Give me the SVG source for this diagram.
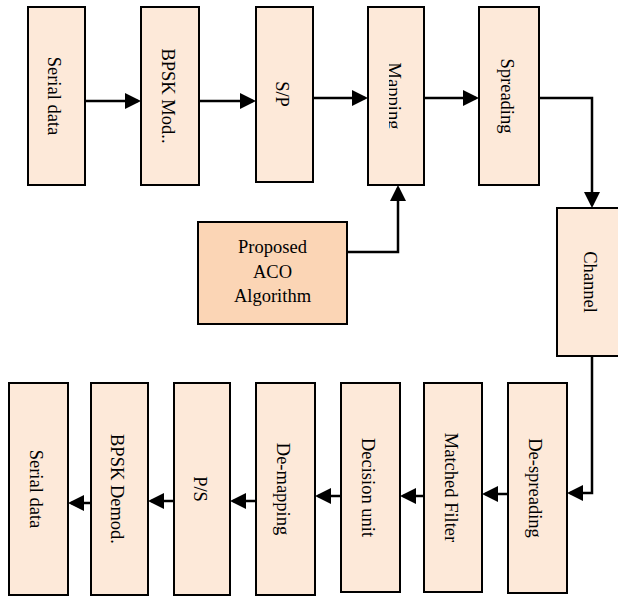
<svg xmlns="http://www.w3.org/2000/svg" width="618" height="597" viewBox="0 0 618 597">
<style>
.box{fill:#FDE9D9;stroke:#000;stroke-width:2}
.aco{fill:#FBD5B5;stroke:#000;stroke-width:2}
.lbl{font-family:"Liberation Serif","Times New Roman",serif;font-size:18.5px;fill:#000;text-anchor:middle}
.conn{fill:none;stroke:#000;stroke-width:2.5}
</style>
<defs>
<marker id="ah" markerUnits="userSpaceOnUse" markerWidth="16" markerHeight="16" refX="13" refY="8" orient="auto">
<path d="M0,0 L16,8 L0,16 z" fill="#000"/>
</marker>
<clipPath id="mapclip"><rect x="389" y="0" width="40" height="200"/></clipPath>
</defs>
<rect width="618" height="597" fill="#fff"/>

<g id="connectors">
<path class="conn" d="M85,101 H138" marker-end="url(#ah)"/>
<path class="conn" d="M199,101 H253" marker-end="url(#ah)"/>
<path class="conn" d="M313,98 H365" marker-end="url(#ah)"/>
<path class="conn" d="M424,98 H476" marker-end="url(#ah)"/>
<path class="conn" d="M539,98 H592 V205" marker-end="url(#ah)"/>
<path class="conn" d="M347,252 H398 V188" marker-end="url(#ah)"/>
<path class="conn" d="M592,356 V493 H570" marker-end="url(#ah)"/>
<path class="conn" d="M508,494 H485" marker-end="url(#ah)"/>
<path class="conn" d="M424,496 H403" marker-end="url(#ah)"/>
<path class="conn" d="M341,496 H318" marker-end="url(#ah)"/>
<path class="conn" d="M256,501 H233" marker-end="url(#ah)"/>
<path class="conn" d="M174,501 H151" marker-end="url(#ah)"/>
<path class="conn" d="M91,503 H71" marker-end="url(#ah)"/>
</g>

<g id="serial-data-tx">
<rect class="box" x="28" y="7" width="57" height="178"/>
<text class="lbl" transform="translate(56.5,96) rotate(90)" y="8.5">Serial data</text>
</g>
<g id="bpsk-mod">
<rect class="box" x="141" y="7" width="58" height="178"/>
<text class="lbl" transform="translate(170,96) rotate(90)" y="8.5">BPSK Mod..</text>
</g>
<g id="sp">
<rect class="box" x="256" y="7" width="57" height="175"/>
<text class="lbl" transform="translate(284.5,94) rotate(90)" y="8.5">S/P</text>
</g>
<g id="mapping">
<rect class="box" x="368" y="7" width="56" height="178"/>
<g clip-path="url(#mapclip)">
<text class="lbl" transform="translate(396,96) rotate(90)" y="8.5">Mapping</text>
</g>
</g>
<g id="spreading">
<rect class="box" x="479" y="7" width="60" height="178"/>
<text class="lbl" transform="translate(509,96) rotate(90)" y="8.5">Spreading</text>
</g>
<g id="aco">
<rect class="aco" x="198" y="222" width="149" height="102"/>
<text class="lbl" x="272.5" y="253">Proposed</text>
<text class="lbl" x="272.5" y="277.5">ACO</text>
<text class="lbl" x="272.5" y="302">Algorithm</text>
</g>
<g id="channel">
<rect class="box" x="557" y="208" width="70" height="148"/>
<text class="lbl" transform="translate(592,282) rotate(90)" y="8.5">Channel</text>
</g>
<g id="de-spreading">
<rect class="box" x="508" y="383" width="59" height="210"/>
<text class="lbl" transform="translate(537.5,488) rotate(90)" y="8.5">De-spreading</text>
</g>
<g id="matched-filter">
<rect class="box" x="424" y="383" width="58" height="209"/>
<text class="lbl" transform="translate(453,487.5) rotate(90)" y="8.5">Matched Filter</text>
</g>
<g id="decision-unit">
<rect class="box" x="341" y="383" width="59" height="209"/>
<text class="lbl" transform="translate(370.5,487.5) rotate(90)" y="8.5">Decision unit</text>
</g>
<g id="de-mapping">
<rect class="box" x="256" y="383" width="59" height="212"/>
<text class="lbl" transform="translate(285.5,489) rotate(90)" y="8.5">De-mapping</text>
</g>
<g id="ps">
<rect class="box" x="174" y="383" width="56" height="212"/>
<text class="lbl" transform="translate(202,489) rotate(90)" y="8.5">P/S</text>
</g>
<g id="bpsk-demod">
<rect class="box" x="91" y="383" width="57" height="212"/>
<text class="lbl" transform="translate(119.5,489) rotate(90)" y="8.5">BPSK Demod.</text>
</g>
<g id="serial-data-rx">
<rect class="box" x="9" y="383" width="59" height="212"/>
<text class="lbl" transform="translate(38.5,489) rotate(90)" y="8.5">Serial data</text>
</g>
</svg>
